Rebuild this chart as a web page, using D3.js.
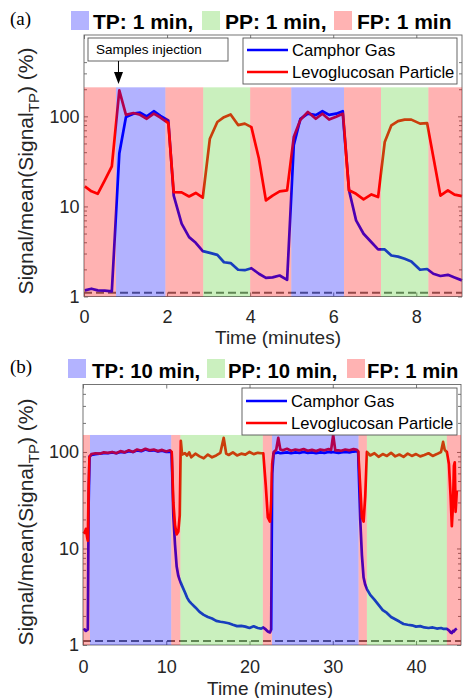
<!DOCTYPE html>
<html><head><meta charset="utf-8">
<script src="https://cdn.jsdelivr.net/npm/d3@7"></script>
<style>body{margin:0;background:#fff}svg{display:block}</style>
</head><body>
<svg id="chart" width="464" height="698"></svg>
<script>
// ---------- Panel (a) data ----------
const timeA = [0.02,0.18,0.33,0.5,0.67,0.85,1.01,1.19,1.35,1.51,1.68,1.84,2.03,2.16,2.35,2.53,2.69,2.86,3.03,3.21,3.37,3.53,3.71,3.87,4.03,4.21,4.38,4.54,4.71,4.89,5.05,5.21,5.39,5.58,5.74,5.9,6.07,6.23,6.38,6.55,6.73,6.92,7.08,7.24,7.4,7.56,7.72,7.88,8.09,8.26,8.41,8.58,8.76,8.92,9.1];
const camphorA = [1.17,1.22,1.17,1.16,1.14,38.6,98.6,107,110,100,114,101,90,13.2,6.43,4.56,3.95,3.19,3.05,2.9,2.4,2.35,1.98,1.96,2.06,1.79,1.61,1.63,1.71,1.53,48,94,107,103,114,104,107,114,15.1,7.0,4.97,4.0,3.33,3.33,2.85,2.77,2.62,2.45,1.98,2.02,1.79,1.69,1.74,1.63,1.51];
const levoA = [16.7,14.7,13.8,19.5,27.8,194,104,109,104,94,107,97,84,14.4,14.3,12.9,14.1,12.5,56.5,86.5,98,105,80,83,76,34,11.65,13.2,14.7,15.1,58.9,91.8,112,94,107,92,99,107,15.1,13.8,12.0,13.6,12.7,51.9,79.4,88.5,92,92,83,84,35.3,13.2,15.1,13.5,13.0];
const phaseTypesA = ["FP","TP","FP","PP","FP","TP","FP","PP","FP"];
const phaseBoundsA = [0,0.77,1.96,2.87,4.0,4.99,6.26,7.15,8.29,9.1];
const xTicksA = [0,2,4,6,8];
const titleA = ["TP: 1 min,","PP: 1 min,","FP: 1 min"];
const injectionTime = 0.83;

// ---------- Panel (b) data ----------
const timeB = [0.05,0.2,0.35,0.5,0.58,0.68,0.78,1.0,1.5,2.0,2.5,3.0,3.5,4.0,4.5,5.0,5.5,6.0,6.5,7.0,7.5,8.0,8.5,9.0,9.5,10.0,10.45,10.65,10.85,11.05,11.25,11.45,11.62,11.75,11.9,12.25,12.5,12.75,13.0,13.5,14.0,14.5,15.0,15.5,16.0,16.5,16.9,17.2,17.5,18.0,18.5,19.0,19.5,20.0,20.5,21.0,21.4,21.65,21.95,22.2,22.45,22.6,22.72,22.9,23.2,23.45,23.7,24.0,24.5,25.0,25.5,26.0,26.5,27.0,27.5,28.0,28.5,29.0,29.5,29.8,30.05,30.3,30.7,31.0,31.5,32.0,32.5,32.9,33.05,33.3,33.5,33.7,33.9,34.1,34.5,35.0,35.5,36.0,36.5,37.0,37.5,38.0,38.5,39.0,39.5,40.0,40.5,41.0,41.5,42.0,42.5,43.0,43.25,43.45,43.7,43.95,44.15,44.3,44.45,44.55,44.65,44.75,44.9];
const camphorB = [1.42,1.45,1.4,1.43,1.45,30,90,93,95,96,97,97,99,97,100,99,102,100,104,102,106,103,104,101,103,100,101,99,22,11,6.5,5.2,4.7,4.4,4.1,3.5,3.1,2.85,2.7,2.45,2.2,2.05,1.95,1.88,1.78,1.74,1.72,1.7,1.68,1.62,1.57,1.58,1.55,1.5,1.56,1.5,1.48,1.52,1.45,1.38,1.35,1.45,60,96,98,99,97,98,99,97,99,98,100,98,99,97,99,98,100,99,100,99,98,99,100,99,101,102,100,19.7,8.5,5.0,4.2,3.8,3.3,2.95,2.6,2.3,2.15,1.95,1.85,1.75,1.65,1.62,1.6,1.55,1.57,1.52,1.5,1.52,1.48,1.5,1.47,1.47,1.47,1.42,1.35,1.33,1.4,1.38,1.42,1.45,1.48];
const levoB = [15,14.5,16,13,12,45,88,95,97,96,99,98,100,97,102,99,104,100,106,103,108,104,106,102,105,101,104,100,30,17.5,14,15,22,130,94,97,92,99,88,96,90,86,94,88,92,98,140,96,93,99,92,96,94,100,95,98,97,97,45,21,19,30,75,100,105,140,106,104,108,103,106,104,107,103,105,102,106,104,107,105,150,104,104,103,106,104,107,105,102,43,21,19,35,100,92,97,89,95,91,98,90,94,89,96,91,95,90,93,97,91,95,100,127,105,100,75,35,17,30,72,78,24,40];
const phaseTypesB = ["FP","TP","FP","PP","FP","TP","FP","PP","FP"];
const phaseBoundsB = [0,0.84,10.6,11.7,21.6,22.7,33.1,34.1,43.7,45.4];
const xTicksB = [0,10,20,30,40];
const titleB = ["TP: 10 min,","PP: 10 min,","FP: 1 min"];

// shared
const yMajor = [1,10,100];
const yMinor = [2,3,4,5,6,7,8,9,20,30,40,50,60,70,80,90,200,300,400];
const refLevel = 1.1;
const seriesNames = ["Camphor Gas","Levoglucosan Particle"];
const seriesColors = ["#0000ff","#ff0000"];
const phaseColor = {TP:"rgb(0,0,255)", PP:"rgb(80,205,40)", FP:"rgb(255,0,0)"};
const phaseAlpha = 0.3;
function blend(c){const r=d3.rgb(c);return d3.rgb(255+(r.r-255)*phaseAlpha,255+(r.g-255)*phaseAlpha,255+(r.b-255)*phaseAlpha).toString();}

const svg = d3.select("#chart");
const SANS = "'Liberation Sans', Arial, Helvetica, sans-serif";
const SERIF = "'Liberation Serif', 'Times New Roman', serif";
const TXT = "#262626";

function drawPanel(c){
  const x = d3.scaleLinear().domain(c.xDomain).range([c.left,c.right]);
  const y = d3.scaleLog().domain(c.yDomain).range([c.bottom,c.top]);
  const g = svg.append("g");
  // reference dashed line
  g.append("path").datum(c.xDomain)
    .attr("d", d3.line().x(d=>x(d)).y(()=>y(refLevel)))
    .attr("stroke","#666").attr("stroke-width",2).attr("stroke-dasharray","8,4").attr("fill","none");
  // series
  const line = d3.line().x(d=>x(d[0])).y(d=>y(d[1]));
  [c.camphor,c.levo].forEach((s,i)=>{
    g.append("path").datum(c.time.map((t,j)=>[t,s[j]]))
      .attr("d",line).attr("fill","none").attr("stroke",seriesColors[i])
      .attr("stroke-width",2.7).attr("stroke-linejoin","round");
  });
  // axes ticks
  const ax = g.append("g").attr("font-family",SANS).attr("fill",TXT);
  const bx = ax.append("g").attr("transform",`translate(0,${c.bottom})`)
    .call(d3.axisBottom(x).tickValues(c.xTicks).tickSize(-4).tickPadding(c.xPad).tickFormat(d3.format("d")));
  const tx = ax.append("g").attr("transform",`translate(0,${c.top})`)
    .call(d3.axisTop(x).tickValues(c.xTicks).tickSize(-4).tickFormat(""));
  const ly = ax.append("g").attr("transform",`translate(${c.left},0)`)
    .call(d3.axisLeft(y).tickValues(yMajor).tickSize(-4).tickPadding(c.yPad).tickFormat(d3.format("d")));
  const lym = ax.append("g").attr("transform",`translate(${c.left},0)`)
    .call(d3.axisLeft(y).tickValues(yMinor.filter(v=>v<c.yDomain[1])).tickSize(-3).tickFormat(""));
  const ry = ax.append("g").attr("transform",`translate(${c.right},0)`)
    .call(d3.axisRight(y).tickValues(yMajor).tickSize(-4).tickFormat(""));
  const rym = ax.append("g").attr("transform",`translate(${c.right},0)`)
    .call(d3.axisRight(y).tickValues(yMinor.filter(v=>v<c.yDomain[1])).tickSize(-3).tickFormat(""));
  [bx,tx,ly,lym,ry,rym].forEach(a=>{a.select(".domain").remove();a.selectAll("line").attr("stroke","#555").attr("stroke-width",0.8);
    a.selectAll("text").attr("font-size",c.tickFont).attr("fill",TXT).attr("font-family",SANS);});
  ax.append("rect").attr("x",c.left).attr("y",c.top).attr("width",c.right-c.left).attr("height",c.bottom-c.top)
    .attr("fill","none").attr("stroke","#666").attr("stroke-width",0.9);
  // phase shading (overlays the lines)
  c.phaseTypes.forEach((p,i)=>{
    g.append("rect").attr("x",x(c.phaseBounds[i])).attr("width",x(c.phaseBounds[i+1])-x(c.phaseBounds[i]))
      .attr("y",y(c.shadeTop)).attr("height",y(c.yDomain[0])-y(c.shadeTop))
      .attr("fill",phaseColor[p]).attr("fill-opacity",phaseAlpha);
  });
  // legend
  const lg = g.append("g").attr("font-family",SANS);
  lg.append("rect").attr("x",c.leg.x0).attr("y",c.leg.y0).attr("width",c.leg.x1-c.leg.x0).attr("height",c.leg.y1-c.leg.y0)
    .attr("fill","#fff").attr("stroke","#555").attr("stroke-width",0.9);
  seriesNames.forEach((n,i)=>{
    lg.append("line").attr("x1",c.leg.x0+4).attr("x2",c.leg.x0+45).attr("y1",c.leg.rows[i]).attr("y2",c.leg.rows[i])
      .attr("stroke",seriesColors[i]).attr("stroke-width",2.7);
    lg.append("text").attr("x",c.leg.x0+49).attr("y",c.leg.rows[i]+6).attr("font-size",16.6).attr("fill","#000").text(n);
  });
  // x label
  g.append("text").attr("x",c.xLabel[0]).attr("y",c.xLabel[1]).attr("text-anchor","middle")
    .attr("font-family",SANS).attr("font-size",19).attr("fill",TXT).text("Time (minutes)");
  // y label
  const yl = g.append("text").attr("transform",`translate(${c.yLabel[0]},${c.yLabel[1]}) rotate(-90)`)
    .attr("text-anchor","middle").attr("font-family",SANS).attr("font-size",21).attr("fill",TXT);
  yl.append("tspan").text("Signal/mean(Signal");
  yl.append("tspan").attr("font-size",15).attr("dy",6).text("TP");
  yl.append("tspan").attr("dy",-6).text(") (%)");
  // panel letter
  g.append("text").attr("x",10).attr("y",c.letterY).attr("font-family",SERIF).attr("font-size",19).attr("fill","#000").text(c.letter);
  // title legend
  const tl = g.append("g");
  ["TP","PP","FP"].forEach((p,i)=>{
    tl.append("rect").attr("x",c.title.px[i]).attr("y",c.title.py).attr("width",18).attr("height",19)
      .attr("fill",blend(phaseColor[p]));
    tl.append("text").attr("x",c.title.tx[i]).attr("y",c.title.base).attr("font-family",SANS).attr("font-weight","bold")
      .attr("font-size",c.title.size).attr("fill","#000").text(c.titles[i]);
  });
  return {x,y,g};
}

const A = drawPanel({
  time:timeA, camphor:camphorA, levo:levoA, phaseTypes:phaseTypesA, phaseBounds:phaseBoundsA,
  xDomain:[0,9.1], yDomain:[1,800], left:84, right:462, top:35, bottom:296.5, shadeTop:210,
  xTicks:xTicksA, xPad:13.5, yPad:4.5, tickFont:18,
  leg:{x0:243,y0:38,x1:457,y1:84,rows:[50,72]},
  xLabel:[278,344], yLabel:[33,171], letter:"(a)", letterY:25,
  title:{px:[71,202,334], py:11, tx:[93,225,357], base:29.3, size:21}, titles:titleA
});
// annotation for (a)
(function(){
  const g = A.g, ax = A.x(injectionTime);
  g.append("rect").attr("x",88).attr("y",38).attr("width",140).attr("height",23).attr("fill","#fff").attr("stroke","#555").attr("stroke-width",0.9);
  g.append("text").attr("x",96).attr("y",54).attr("font-family",SANS).attr("font-size",13.5).attr("fill","#000").text("Samples injection");
  g.append("line").attr("x1",ax).attr("x2",ax).attr("y1",61).attr("y2",75).attr("stroke","#000").attr("stroke-width",1);
  g.append("path").attr("d",`M${ax-4.5},72 L${ax+4.5},72 L${ax},84 Z`).attr("fill","#000");
})();

drawPanel({
  time:timeB, camphor:camphorB, levo:levoB, phaseTypes:phaseTypesB, phaseBounds:phaseBoundsB,
  xDomain:[0,45.4], yDomain:[1,500], left:83, right:461, top:384.5, bottom:645, shadeTop:150,
  xTicks:xTicksB, xPad:15, yPad:4, tickFont:18,
  leg:{x0:242,y0:388,x1:457,y1:435,rows:[401,423]},
  xLabel:[270,694.5], yLabel:[33,522], letter:"(b)", letterY:373,
  title:{px:[68,207,347], py:359, tx:[92,228,367], base:377.7, size:20.3}, titles:titleB
});
</script>
</body></html>
